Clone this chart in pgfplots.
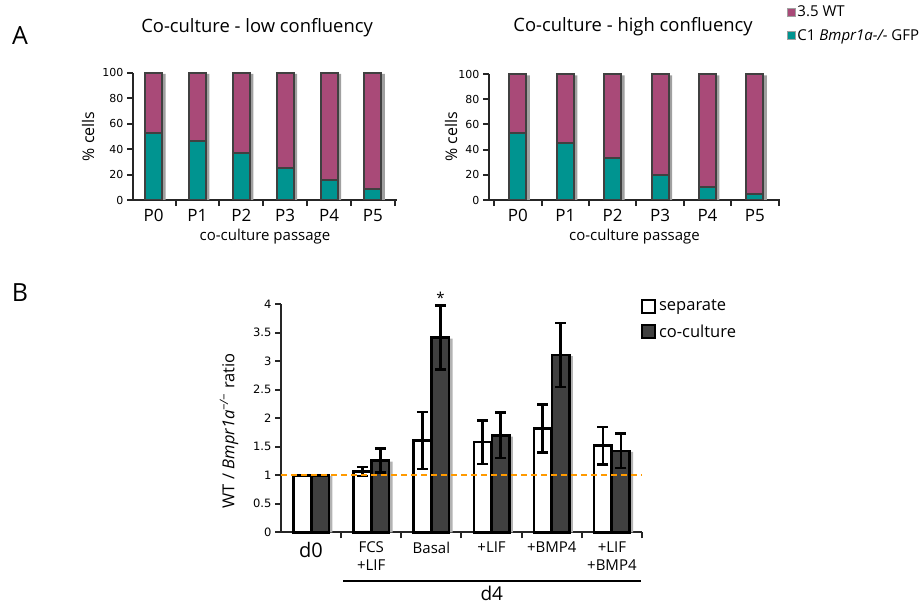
\documentclass[border=0pt]{standalone}
\usepackage{pgfplots}
\pgfplotsset{compat=1.18}
\usepackage{fontspec}
\setmainfont{Open Sans}
\newfontfamily\verd{DejaVu Sans}
\definecolor{wt}{HTML}{A94A78}
\definecolor{gfp}{HTML}{009490}
\definecolor{edge}{HTML}{404040}
\definecolor{shadowc}{HTML}{A0A0A0}
\definecolor{darkbar}{HTML}{404040}
\definecolor{dashc}{HTML}{FF9A00}

\pgfplotsset{
  panelA/.style={
    scale only axis,
    ybar, bar width=17pt,
    ymin=0, ymax=100,
    ytick={0,20,...,100},
    xtick={0,...,5},
    xticklabels={P0,P1,P2,P3,P4,P5},
    minor xtick={-0.5,0.5,...,5.5},
    major x tick style={draw=none},
    minor tick length=6pt, major tick length=6pt,
    tick align=outside,
    axis x line*=bottom, axis y line*=left,
    axis line style={line width=2pt, black!85},
    every tick/.style={line width=2pt, black!85},
    /pgf/number format/assume math mode=true,
    yticklabel style={font=\verd\fontsize{11}{11}\selectfont},
    xticklabel style={font=\fontsize{17}{17}\selectfont},
    xlabel={co-culture passage},
    xlabel style={font=\fontsize{15}{15}\selectfont, at={(axis description cs:0.5,-0.29)}, anchor=center},
    ylabel={\% cells},
    ylabel style={font=\fontsize{16}{16}\selectfont, anchor=center},
    title style={font=\fontsize{18.4}{18.4}\selectfont, anchor=center},
    shadowbar/.style={fill=shadowc, draw=none, bar shift=3.5pt, forget plot},
    wtbar/.style={fill=wt, draw=edge, line width=2pt, bar shift=0pt},
    gfpbar/.style={fill=gfp, draw=edge, line width=2pt, bar shift=0pt},
  }
}

\begin{document}
\begin{tikzpicture}
\useasboundingbox (0pt,0pt) rectangle (922pt,-604pt);

\node[font=\fontsize{25}{25}\selectfont] at (20pt,-36pt) {A};
\node[font=\fontsize{25}{25}\selectfont] at (20pt,-293pt) {B};

% Panel A left
\begin{axis}[panelA,
  at={(133pt,-200pt)}, anchor=south west,
  width=264pt, height=127.3pt,
  xmin=-0.47, xmax=5.55,
  title={Co-culture - low confluency},
  title style={at={(axis description cs:0.47,1.31)}},
  ylabel style={at={(axis description cs:-0.17,0.5)}},
]
\addplot[shadowbar] coordinates {(0,99)(1,99)(2,99)(3,99)(4,99)(5,99)};
\addplot[wtbar] coordinates {(0,100)(1,100)(2,100)(3,100)(4,100)(5,100)};
\addplot[gfpbar] coordinates {(0,53)(1,46)(2,37)(3,25)(4,16)(5,9)};
\end{axis}

% Panel A right
\begin{axis}[panelA,
  at={(489pt,-200pt)}, anchor=south west,
  width=291pt, height=126pt,
  xmin=-0.61, xmax=5.53,
  title={Co-culture - high confluency},
  title style={at={(axis description cs:0.495,1.325)}},
  ylabel style={at={(axis description cs:-0.13,0.5)}},
  legend style={at={(axis description cs:1.024,1.55)}, anchor=north west, draw=none, fill=none,
    font=\fontsize{15}{15}\selectfont, row sep=9pt, inner sep=0pt,
    nodes={inner xsep=1.5pt, inner ysep=1pt}},
  legend cell align=left,
  legend image code/.code={\draw[#1, draw=shadowc, line width=0.8pt] (0pt,-4pt) rectangle (8pt,4pt);},
]
\addplot[shadowbar] coordinates {(0,99)(1,99)(2,99)(3,99)(4,99)(5,99)};
\addplot[wtbar] coordinates {(0,100)(1,100)(2,100)(3,100)(4,100)(5,100)};
\addplot[gfpbar] coordinates {(0,53)(1,45)(2,33)(3,20)(4,10)(5,5)};
\legend{3.5 WT, C1 \textit{Bmpr1a-/-} GFP}
\end{axis}

% Panel B
\begin{axis}[
  at={(281pt,-532.3pt)}, anchor=south west,
  scale only axis, width=361pt, height=228pt,
  ybar, bar width=17.5pt,
  xmin=-0.5, xmax=5.5, ymin=0, ymax=4,
  ytick={0,0.5,...,4},
  xtick={0,...,5},
  xticklabels={{\fontsize{20}{20}\selectfont d0}, FCS\\+LIF, Basal, +LIF, +BMP4, +LIF\\+BMP4},
  xticklabel style={align=center, font=\fontsize{15}{18}\selectfont},
  minor xtick={0.5,1.5,...,5.5},
  major x tick style={draw=none},
  minor tick length=6pt, major tick length=6pt,
  tick align=outside,
  axis x line*=bottom, axis y line*=left,
  axis line style={line width=2pt, black!85},
  every tick/.style={line width=2pt, black!85},
  /pgf/number format/assume math mode=true,
  yticklabel style={font=\verd\fontsize{11.5}{11.5}\selectfont},
  ylabel={WT / \textit{Bmpr1a}\textsuperscript{\textit{−/−}} ratio},
  ylabel style={font=\fontsize{16.5}{16.5}\selectfont, at={(axis description cs:-0.144,0.445)}, anchor=center},
  legend style={at={(axis description cs:0.997,1.025)}, anchor=north west, draw=none, fill=none,
    font=\fontsize{16.5}{16.5}\selectfont, row sep=10pt, inner sep=0pt,
    nodes={inner xsep=3pt, inner ysep=1pt}},
  legend cell align=left,
  legend image code/.code={\draw[#1, draw=black, line width=2pt] (0pt,-6.5pt) rectangle (13pt,6.5pt);},
  clip=false,
]
\addplot[fill=shadowc!80, draw=none, bar shift=12.5pt, forget plot] coordinates {(0,0.99)(1,1.24)(2,3.40)(3,1.68)(4,3.09)(5,1.41)};
\addplot[fill=white, draw=black, line width=2.5pt, bar shift=-9pt,
  error bars/.cd, y dir=both, y explicit,
  error bar style={line width=2.5pt, black},
  error mark options={rotate=90, mark size=5.5pt, line width=2.5pt, black}]
  coordinates {(0,1) +- (0,0) (1,1.07) +- (0,0.08) (2,1.61) +- (0,0.5) (3,1.58) +- (0,0.38) (4,1.82) +- (0,0.42) (5,1.52) +- (0,0.33)};
\addplot[fill=darkbar, draw=black, line width=2.5pt, bar shift=9pt,
  error bars/.cd, y dir=both, y explicit,
  error bar style={line width=2.5pt, black},
  error mark options={rotate=90, mark size=5.5pt, line width=2.5pt, black}]
  coordinates {(0,1) +- (0,0) (1,1.26) +- (0,0.21) (2,3.42) +- (0,0.56) (3,1.70) +- (0,0.4) (4,3.11) +- (0,0.56) (5,1.43) +- (0,0.3)};
\addplot[sharp plot, dashc, line width=2.2pt, forget plot, dash pattern=on 6pt off 4pt] coordinates {(-0.5,1) (5.5,1)};
\legend{separate, co-culture}
\node[font=\fontsize{15}{15}\selectfont, anchor=south, xshift=9pt, inner sep=1pt] at (axis cs:2,3.99) {*};
\draw[line width=1.2pt] (axis description cs:0.172,-0.214) -- (axis description cs:0.997,-0.214);
\node[font=\fontsize{19}{19}\selectfont] at (axis description cs:0.584,-0.27) {d4};
\end{axis}
\end{tikzpicture}
\end{document}
